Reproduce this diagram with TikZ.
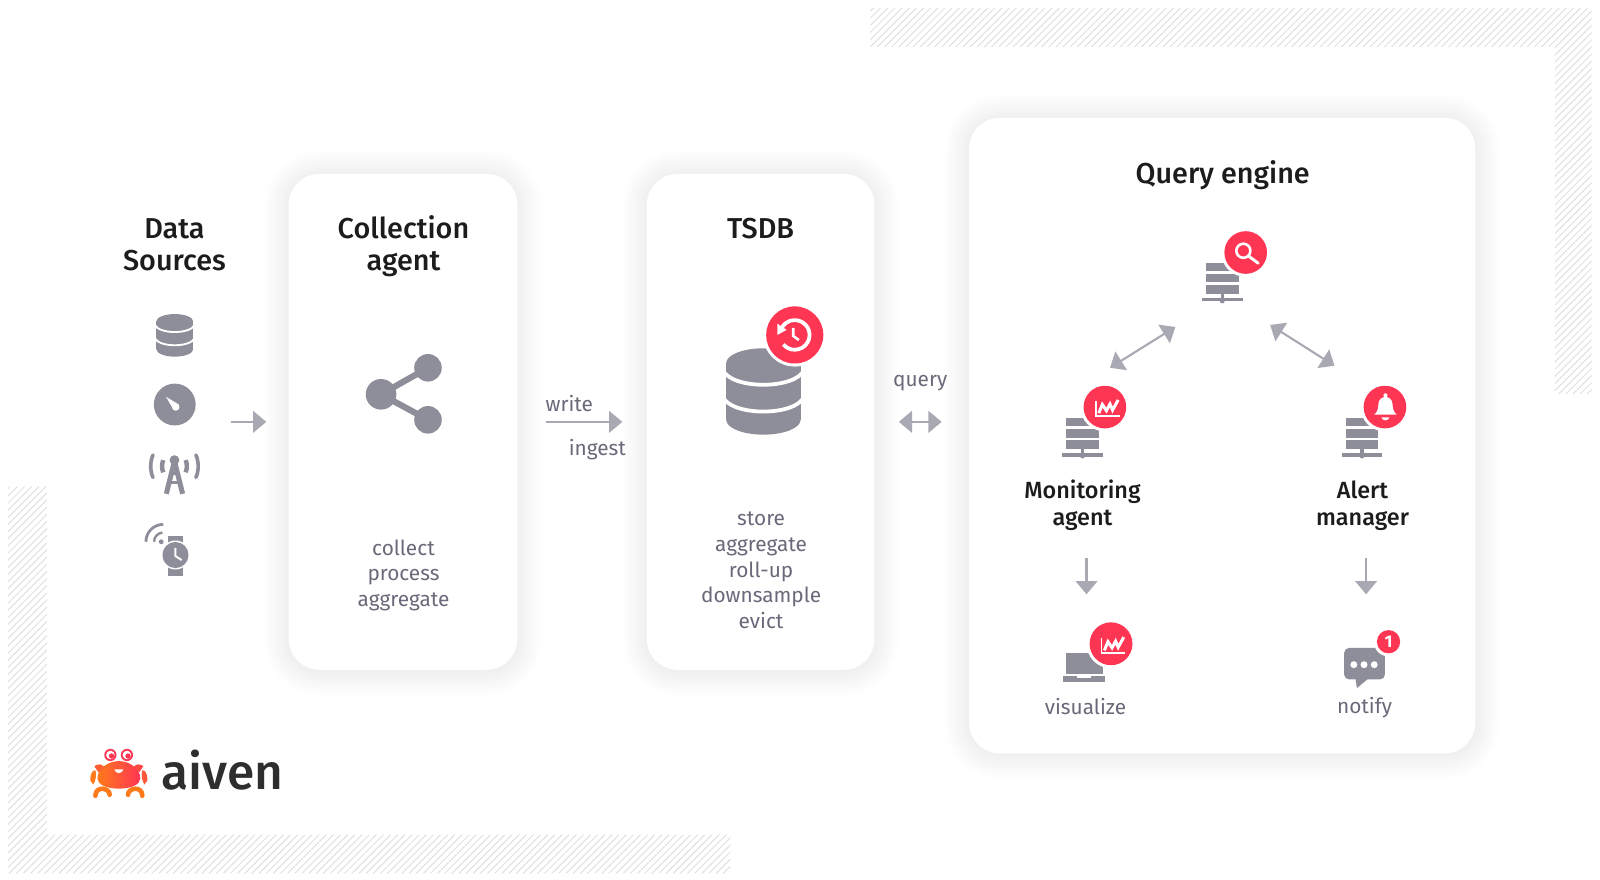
\documentclass[tikz,border=0pt]{standalone}
\usepackage{fontspec}
\setmainfont{Fira Sans}
\newfontfamily\headfont{Fira Sans Medium}
\usetikzlibrary{arrows.meta}
\definecolor{icongray}{HTML}{8E8E9A}
\definecolor{arrowgray}{HTML}{A9A9B3}
\definecolor{bodygray}{HTML}{69697A}
\definecolor{headblack}{HTML}{1C1C1C}
\definecolor{badgered}{HTML}{FF3554}
\definecolor{hatchgray}{HTML}{DCDCDC}
\definecolor{crabor}{HTML}{FF7A1A}
\tikzset{
  headtext/.style={font=\fontsize{14.4}{15.9}\selectfont\headfont,text=headblack,align=center,inner sep=0pt},
  subhead/.style={font=\fontsize{11.7}{13.3}\selectfont\headfont,text=headblack,align=center,inner sep=0pt},
  bodytext/.style={font=\fontsize{10.4}{12.85}\selectfont,text=bodygray,align=center,inner sep=0pt},
  flowarrow/.style={draw=arrowgray,fill=arrowgray,line width=1.05pt,-{Triangle[length=6.6pt,width=10.8pt]}},
  flowboth/.style={draw=arrowgray,fill=arrowgray,line width=1.05pt,{Triangle[length=6.6pt,width=10.8pt]}-{Triangle[length=6.6pt,width=10.8pt]}},
  hatchline/.style={draw=hatchgray,line width=.42pt}
}
\newcommand{\cardbox}[5]{%
  \foreach \i in {15,14,...,1}{%
    \fill[black,opacity=.0048,rounded corners={(#5+1.6*\i)*.5101pt}] (#1-1.6*\i,#2-1.6*\i+1) rectangle (#3+1.6*\i,#4+1.6*\i+1);
  }%
  \fill[white,rounded corners={#5*.5101pt}] (#1,#2) rectangle (#3,#4);
}
\newcommand{\badgeat}[3]{%
  \fill[white] (#1,#2) circle[radius=#3+3];
  \fill[badgered] (#1,#2) circle[radius=#3];
}
\newcommand{\cylicon}[3]{%
  \begin{scope}[shift={(#1,#2)},scale=#3]
    \fill[icongray] (0,-.76) ellipse[x radius=1,y radius=.4];
    \fill[icongray] (0,.76) ellipse[x radius=1,y radius=.4];
    \fill[icongray] (-1,-.76) rectangle (1,.76);
    \draw[white,line width={#3*.052pt}] (-1.1,-.6) .. controls (-.9,-.04) and (.9,-.04) .. (1.1,-.6);
    \draw[white,line width={#3*.052pt}] (-1.1,.12) .. controls (-.9,.68) and (.9,.68) .. (1.1,.12);
  \end{scope}
}
\newcommand{\srvicon}[2]{%
  \begin{scope}[shift={(#1,#2)}]
    \fill[icongray] (-16,0) rectangle (16,8.4);
    \fill[icongray] (-16,11) rectangle (16,19.4);
    \fill[icongray] (-16,21.8) rectangle (16,30.2);
    \fill[icongray] (-1.6,30) rectangle (1.6,36);
    \fill[icongray] (-20,34.2) rectangle (20,38);
    \fill[icongray] (0,37.5) circle[radius=2.4];
  \end{scope}
}
\newcommand{\charticon}[2]{%
  \begin{scope}[shift={(#1,#2)}]
    \draw[white,line width=.9pt] (-10.8,-6) -- (-10.8,8.6) -- (12.4,8.6);
    \draw[white,line width=1.5pt,line join=miter] (-8,6) -- (-4.5,-2.5) -- (-.5,3.5) -- (3,-3) -- (5.5,3) -- (11,-7);
  \end{scope}
}
\begin{document}
\begin{tikzpicture}[x=.5101pt,y=.5101pt,yscale=-1]
\useasboundingbox (0,0) rectangle (1568.3,861.6);
\fill[white] (0,0) rectangle (1568.3,861.6);
% hatching
\begin{scope}
  \clip (853,8) -- (1560,8) -- (1560,386) -- (1524,386) -- (1524,46) -- (853,46) -- cycle;
  \foreach \c in {850,857,...,1960}{\draw[hatchline] (\c,0) -- (\c-390,390);}
\end{scope}
\begin{scope}
  \clip (8,477) -- (46,477) -- (46,818) -- (716,818) -- (716,856) -- (8,856) -- cycle;
  \foreach \c in {480,487,...,1580}{\draw[hatchline] (\c-470,470) -- (\c-860,860);}
\end{scope}
% cards
\cardbox{283}{170.5}{507}{656.5}{30}
\cardbox{634}{170.5}{857}{656.5}{30}
\cardbox{950}{115.5}{1446}{738.5}{30}
% headings
\node[headtext] (hdata) at (171,240.3) {Data\\Sources};
\node[headtext] (hcoll) at (395.5,241) {Collection\\agent};
\node[headtext] (htsdb) at (745.5,224.5) {TSDB};
\node[headtext] (hquery) at (1198.5,172) {Query engine};
\node[subhead] (hmon) at (1061,495.5) {Monitoring\\agent};
\node[subhead] (halert) at (1335.5,495.5) {Alert\\manager};
% body text
\node[bodytext] (tcoll) at (395.5,564) {collect\\process\\aggregate};
\node[bodytext] (ttsdb) at (746,559.2) {store\\aggregate\\roll-up\\downsample\\evict};
\node[bodytext] (twrite) at (558,396) {write};
\node[bodytext] (tingest) at (585.5,440.5) {ingest};
\node[bodytext] (tquery) at (902,376) {query};
\node[bodytext] (tvis) at (1064,692.5) {visualize};
\node[bodytext] (tnot) at (1337.5,693.5) {notify};
% source icons
\cylicon{171.3}{328.7}{18}
\fill[icongray] (171.3,396.5) circle[radius=20.5];
\fill[white] (162.8,389) -- (175.3,396.5) -- (170.3,402) -- cycle;
\fill[white] (172.3,399) circle[radius=3.6];
% tower
\begin{scope}[icongray,line cap=butt]
  \fill (171,451) circle[radius=4.8];
  \draw[line width=2.5pt] (171,452) -- (163,484);
  \draw[line width=2.5pt] (171,452) -- (179,484);
  \draw[line width=1.7pt] (165,473) -- (177,473);
  \draw[line width=1.7pt] (167,464) -- (175,464);
  \draw[line width=1.8pt,line cap=round] (150,446) .. controls (147,452) and (147,462) .. (150,468);
  \draw[line width=1.8pt,line cap=round] (192,446) .. controls (195,452) and (195,462) .. (192,468);
  \draw[line width=2.2pt] (160,451) .. controls (158.5,455) and (158.5,459) .. (160,463);
  \draw[line width=2.2pt] (182,451) .. controls (183.5,455) and (183.5,459) .. (182,463);
\end{scope}
% watch
\fill[icongray] (164.5,525) rectangle (179.5,565);
\fill[white] (172,544) circle[radius=14.2];
\fill[icongray] (172,544) circle[radius=12.8];
\draw[white,line width=1pt] (172,537) -- (172,545) -- (178,549);
\fill[icongray] (158,531) circle[radius=2.4];
\begin{scope}[shift={(160,531)},yscale=-1]
  \draw[icongray,line width=1.2pt] (180:9) arc[start angle=180,end angle=95,radius=9];
  \draw[icongray,line width=1.4pt] (180:17) arc[start angle=180,end angle=90,radius=17];
\end{scope}
% share icon
\draw[icongray,line width=3.1pt] (419.5,360.5) -- (373.5,386.5) -- (419.5,411.5);
\fill[icongray] (373.5,386.5) circle[radius=15];
\fill[icongray] (419.5,360.5) circle[radius=13.5];
\fill[icongray] (419.5,411.5) circle[radius=13.5];
% tsdb icon
\cylicon{748.3}{383.7}{36.5}
\badgeat{779}{328.3}{28}
\begin{scope}[shift={(779,328.3)},yscale=-1]
  \draw[white,line width=1.9pt] (150:14.5) arc[start angle=150,end angle=-140,radius=14.5];
  \fill[white] (-17,11) -- (-8,5) -- (-17,0) -- cycle;
  \draw[white,line width=1.3pt] (-1.5,7) -- (-1.5,-1) -- (4,-5);
\end{scope}
% query engine server icons
\srvicon{1198}{257.5}
\badgeat{1221}{247.5}{20.9}
\draw[white,line width=1.3pt] (1218.7,245.8) circle[radius=6.9];
\draw[white,line width=1.5pt,line cap=round] (1223.8,250.9) -- (1233.2,258);
\srvicon{1061}{409.5}
\badgeat{1083}{399}{20.9}
\charticon{1085}{399}
\srvicon{1335}{409.5}
\badgeat{1357.5}{399}{20.9}
\begin{scope}[shift={(1358,399.5)}]
  \fill[white] (0,-12) circle[radius=2];
  \fill[white] (-11,7) .. controls (-7.5,4) and (-7,0) .. (-7,-3) .. controls (-7,-8) and (-3,-10.5) .. (0,-10.5) .. controls (3,-10.5) and (7,-8) .. (7,-3) .. controls (7,0) and (7.5,4) .. (11,7) -- cycle;
  \fill[white] (-4,9.5) .. controls (-3,13.5) and (3,13.5) .. (4,9.5) -- cycle;
\end{scope}
% laptop
\fill[icongray] (1045,640) rectangle (1081,661);
\fill[icongray] (1042,663) rectangle (1083,668);
\fill[white] (1056,663) rectangle (1069,664.4);
\badgeat{1089}{631}{21}
\charticon{1090.5}{631.5}
% notify icon
\fill[icongray,rounded corners=2.5pt] (1317.5,635) rectangle (1357.5,666);
\fill[icongray] (1328.5,664) -- (1342.5,664) -- (1330,674.5) -- cycle;
\fill[white] (1327,651.5) circle[radius=3.4];
\fill[white] (1337,651.5) circle[radius=3.4];
\fill[white] (1347,651.5) circle[radius=3.4];
\badgeat{1361}{629}{11.4}
\node[font=\fontsize{8.5}{9}\selectfont\bfseries,text=white,inner sep=0pt] (nbadge) at (1361,629) {1};
% arrows
\coordinate (a1s) at (226,413.5); \coordinate (a1e) at (261,413.5);
\coordinate (a2s) at (535,413.5); \coordinate (a2e) at (610,413.5);
\coordinate (a3s) at (881,413.5); \coordinate (a3e) at (923,413.5);
\coordinate (a4s) at (1088,360.5); \coordinate (a4e) at (1152,320.5);
\coordinate (a5s) at (1245,318.5); \coordinate (a5e) at (1308,358.5);
\coordinate (a6s) at (1065,546.5); \coordinate (a6e) at (1065,582.5);
\coordinate (a7s) at (1339,546.5); \coordinate (a7e) at (1339,582.5);
\draw[flowarrow] (a1s) -- (a1e);
\draw[flowarrow] (a2s) -- (a2e);
\draw[flowboth] (a3s) -- (a3e);
\draw[flowboth] (a4s) -- (a4e);
\draw[flowboth] (a5s) -- (a5e);
\draw[flowarrow] (a6s) -- (a6e);
\draw[flowarrow] (a7s) -- (a7e);
% logo
\begin{scope}[shift={(116.5,761)}]
  \fill[badgered] (-8.3,-21) circle[radius=6];
  \fill[white] (-8.3,-21) circle[radius=4.2];
  \fill[badgered] (-7.2,-20) circle[radius=2.6];
  \fill[badgered] (7.9,-21) circle[radius=6];
  \fill[white] (7.9,-21) circle[radius=4.2];
  \fill[badgered] (9,-20) circle[radius=2.6];
  \shade[left color=crabor,right color=badgered] (-21,2) .. controls (-21,-8) and (-10,-15) .. (0,-15) .. controls (10,-15) and (21,-8) .. (21,2) .. controls (21,8) and (12,12) .. (0,12) .. controls (-12,12) and (-21,8) .. (-21,2) -- cycle;
  \fill[white] (-4.5,-7) -- (4.5,-7) .. controls (3.5,-2) and (-3.5,-2) .. (-4.5,-7) -- cycle;
  \fill[crabor!60!badgered] (-24,-10) .. controls (-20,-13) and (-17,-12) .. (-14,-9) -- (-20,-4) -- cycle;
  \fill[badgered!70!crabor] (24,-10) .. controls (20,-13) and (17,-12) .. (14,-9) -- (20,-4) -- cycle;
  \fill[crabor] (-28,4) .. controls (-28,-3) and (-26,-6) .. (-23,-6) .. controls (-22,-2) and (-22,3) .. (-25,8) -- cycle;
  \fill[crabor!50!badgered] (28,4) .. controls (28,-3) and (26,-6) .. (23,-6) .. controls (22,-2) and (22,3) .. (25,8) -- cycle;
  \draw[crabor,line width=2.3pt,line cap=round] (-9,18) .. controls (-9,11) and (-23,9) .. (-23,19);
  \draw[crabor,line width=2.3pt,line cap=round] (9,18) .. controls (9,11) and (23,9) .. (23,19);
\end{scope}
\node[anchor=base west,inner sep=0pt,font=\fontsize{24.8}{28}\selectfont\headfont,text=black!82] (logo) at (158,773.5) {aiven};
\end{tikzpicture}
\end{document}
